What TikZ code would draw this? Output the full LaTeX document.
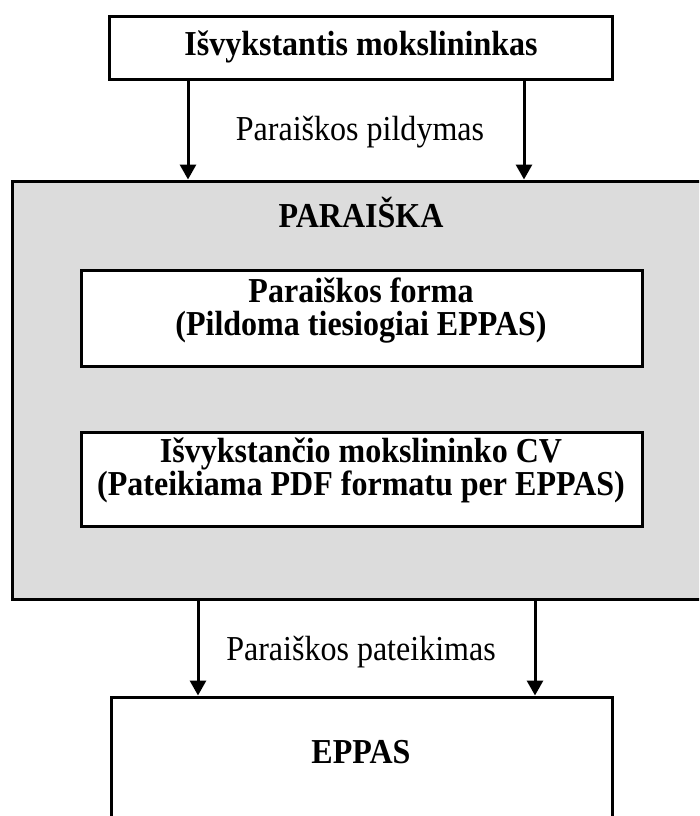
\documentclass[tikz,border=0pt]{standalone}
\usepackage{fontspec}
\setmainfont{Liberation Serif}[FakeStretch=0.915]
\usetikzlibrary{arrows.meta}
\definecolor{panelgray}{RGB}{220,220,220}
\tikzset{
  boxline/.style={draw=black, line width=3pt, inner sep=0pt},
  txt/.style={font=\fontsize{35}{33}\selectfont, align=center, inner sep=0pt},
  btxt/.style={font=\fontsize{35}{33}\selectfont\bfseries, align=center, inner sep=0pt},
  flow/.style={line width=3pt, -{Triangle[length=15pt,width=16pt]}},
}
\begin{document}
\begin{tikzpicture}[x=1pt,y=-1pt]
\useasboundingbox (0,0) rectangle (699,816);
\clip (0,0) rectangle (699,816);
% boxes
\node[boxline, fill=white, minimum width=503pt, minimum height=62pt] (top) at (360.5,48) {};
\node[boxline, fill=panelgray, minimum width=708pt, minimum height=418pt] (gray) at (366,390) {};
\node[boxline, fill=white, minimum width=561pt, minimum height=96pt] (form) at (361.5,318) {};
\node[boxline, fill=white, minimum width=561pt, minimum height=94pt] (cv) at (361.5,479) {};
\node[boxline, fill=white, minimum width=501pt, minimum height=143pt] (eppas) at (361.5,768.5) {};
% texts
\node[btxt] (ttop) at (361,47) {Išvykstantis mokslininkas};
\node[txt] (l1) at (360,132) {Paraiškos pildymas};
\node[btxt] (tgray) at (361,212) {PARAIŠKA};
\node[btxt] (tform) at (361,311) {Paraiškos forma\\(Pildoma tiesiogiai EPPAS)};
\node[btxt] (tcv) at (361,470) {Išvykstančio mokslininko CV\\(Pateikiama PDF formatu per EPPAS)};
\node[txt] (l2) at (361,652) {Paraiškos pateikimas};
\node[btxt] (teppas) at (361,752) {EPPAS};
% arrows
\coordinate (c1) at (188,0);
\coordinate (c2) at (524,0);
\coordinate (c3) at (198,0);
\coordinate (c4) at (535,0);
\draw[flow] (top.south -| c1) -- (gray.north -| c1);
\draw[flow] (top.south -| c2) -- (gray.north -| c2);
\draw[flow] (gray.south -| c3) -- (eppas.north -| c3);
\draw[flow] (gray.south -| c4) -- (eppas.north -| c4);
\end{tikzpicture}
\end{document}
